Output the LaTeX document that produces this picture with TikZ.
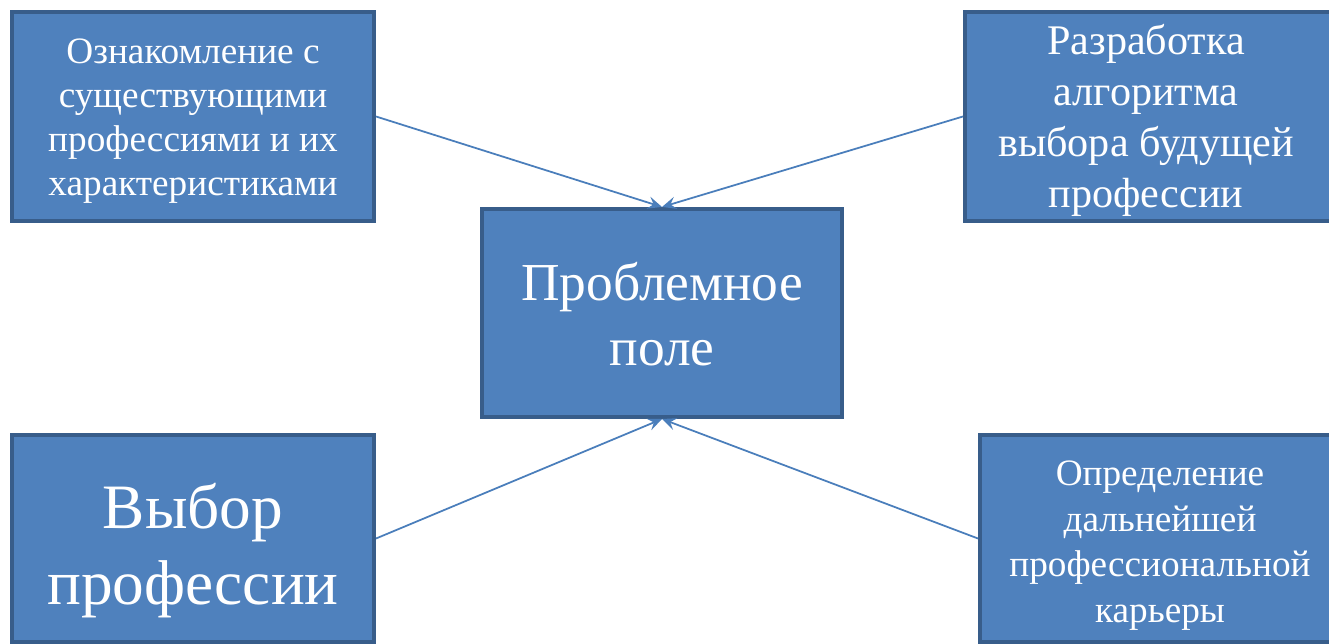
\documentclass[tikz,border=0pt]{standalone}
\usepackage{fontspec}
\setmainfont{Liberation Serif}
\usetikzlibrary{arrows.meta}
\definecolor{boxfill}{HTML}{4F81BD}
\definecolor{boxline}{HTML}{385D8A}
\definecolor{arrowline}{HTML}{4A7EBB}
\tikzset{
    box/.style={shape=rectangle,draw=boxline,fill=boxfill,line width=2.3pt,inner sep=0pt},
    boxtext/.style={text=white,align=center,inner sep=0pt},
    link/.style={->,draw=arrowline,line width=1pt}
  }

\begin{document}
\begin{tikzpicture}[x=0.02cm,y=-0.02cm,>={Stealth[length=8pt,width=7pt,inset=3pt]}]
    \useasboundingbox (0,0) rectangle (1329,644);
    \clip (0,0) rectangle (1329,644);

    % boxes
    \node[box, minimum width=362*0.02cm, minimum height=209*0.02cm] (known) at (193,116.5) {};
    \node[box, minimum width=366*0.02cm, minimum height=209*0.02cm] (algo) at (1148,116.5) {};
    \node[box, minimum width=360*0.02cm, minimum height=208*0.02cm] (field) at (662,313) {};
    \node[box, minimum width=362*0.02cm, minimum height=207*0.02cm] (choice) at (193,538.5) {};
    \node[box, minimum width=364*0.02cm, minimum height=207*0.02cm] (career) at (1162,538.5) {};

    % texts
    \node[boxtext, font=\fontsize{21.2}{25}\selectfont, yshift=-0.1cm] (knowntext) at (known)
        {Ознакомление с\\существующими\\профессиями и их\\характеристиками};
    \node[boxtext, font=\fontsize{24}{29}\selectfont, yshift=-0.08cm] (algotext) at (1146,116.5)
        {Разработка\\алгоритма\\выбора будущей\\профессии};
    \node[boxtext, font=\fontsize{30.4}{37}\selectfont, yshift=-0.02cm] (fieldtext) at (field)
        {Проблемное\\поле};
    \node[boxtext, font=\fontsize{36}{43.5}\selectfont, yshift=-0.24cm] (choicetext) at (choice)
        {Выбор\\профессии};
    \node[boxtext, font=\fontsize{21.2}{26}\selectfont, yshift=-0.14cm] (careertext) at (1160,538.5)
        {Определение\\дальнейшей\\профессиональной\\карьеры};

    \draw[link] (known.east) -- (field.north);
    \draw[link] (algo.west) -- (field.north);
    \draw[link] (choice.east) -- (field.south);
    \draw[link] (career.west) -- (field.south);
\end{tikzpicture}
\end{document}
